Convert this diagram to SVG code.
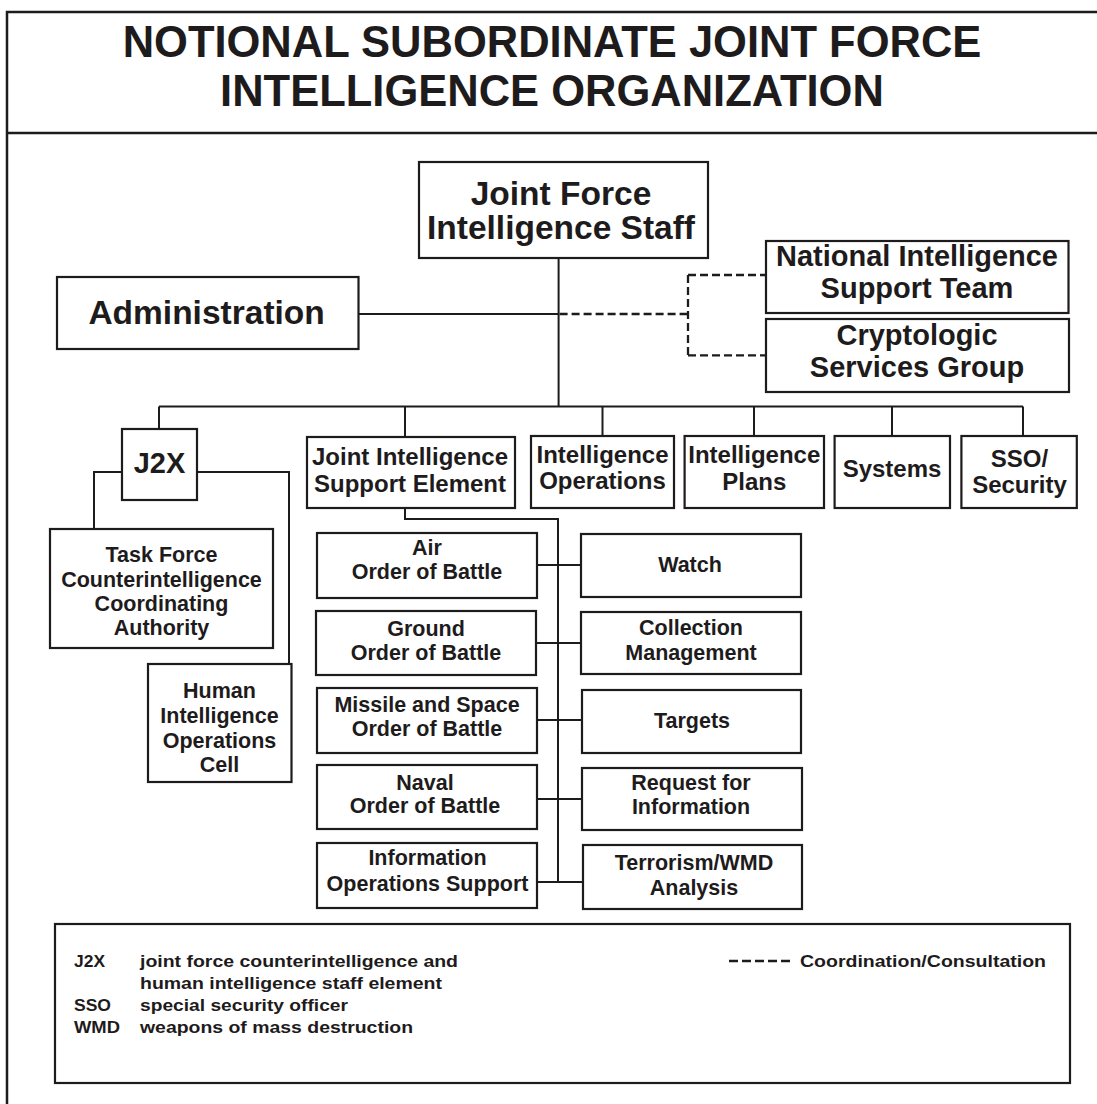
<svg xmlns="http://www.w3.org/2000/svg" width="1097" height="1104" viewBox="0 0 1097 1104">
  <style>
    .frame { fill: none; stroke: #1e1b1c; stroke-width: 2.5; }
    .box { fill: #ffffff; stroke: #1e1b1c; stroke-width: 2.2; }
    .ln { fill: none; stroke: #1e1b1c; stroke-width: 2; }
    .dash { stroke-dasharray: 8 4; stroke-width: 2.3; }
    text { font-family: "Liberation Sans", Arial, Helvetica, sans-serif; font-weight: bold; fill: #1e1b1c; }
    .c { text-anchor: middle; }
    .title { font-size: 43.5px; }
    .xl { font-size: 33.5px; }
    .lg { font-size: 29px; }
    .md { font-size: 24px; }
    .sm { font-size: 21.5px; }
    .key { font-size: 17px; }
  </style>
  <rect width="1097" height="1104" fill="#ffffff"/>

  <!-- page frame and title band -->
  <g id="frame">
    <path class="frame" d="M1097,12 H7 V1104"/>
    <line class="frame" x1="7" y1="133" x2="1097" y2="133"/>
    <text class="title c" x="552" y="57">NOTIONAL SUBORDINATE JOINT FORCE</text>
    <text class="title c" x="552" y="106">INTELLIGENCE ORGANIZATION</text>
  </g>

  <!-- connectors -->
  <g id="connectors">
    <!-- staff trunk, administration, and main bus -->
    <line class="ln" x1="558.6" y1="258" x2="558.6" y2="407"/>
    <line class="ln" x1="358" y1="314" x2="558.6" y2="314"/>
    <line class="ln" x1="159" y1="406.5" x2="1023" y2="406.5"/>
    <line class="ln" x1="159" y1="406.5" x2="159" y2="429"/>
    <line class="ln" x1="405" y1="406.5" x2="405" y2="437"/>
    <line class="ln" x1="602.5" y1="406.5" x2="602.5" y2="436"/>
    <line class="ln" x1="754" y1="406.5" x2="754" y2="436"/>
    <line class="ln" x1="892" y1="406.5" x2="892" y2="436"/>
    <line class="ln" x1="1023" y1="406.5" x2="1023" y2="436"/>
    <!-- coordination / consultation -->
    <path class="ln dash" d="M559.6,314 H688 M688,275 V355.3 M688,275 H766 M688,355.3 H766"/>
    <!-- J2X branches -->
    <path class="ln" d="M122,472 H94 V529"/>
    <path class="ln" d="M197,472 H289 V664"/>
    <!-- JISE spine -->
    <path class="ln" d="M405,508 V519 H558 V882"/>
    <line class="ln" x1="537" y1="565" x2="581" y2="565"/>
    <line class="ln" x1="536" y1="643" x2="581" y2="643"/>
    <line class="ln" x1="537" y1="720" x2="582" y2="720"/>
    <line class="ln" x1="537" y1="799" x2="582" y2="799"/>
    <line class="ln" x1="537" y1="882" x2="583" y2="882"/>
  </g>

  <g id="jfis">
    <rect class="box" x="419" y="162" width="289" height="96"/>
    <text class="xl c" x="561" y="205">Joint Force</text>
    <text class="xl c" x="561" y="239">Intelligence Staff</text>
  </g>

  <g id="administration">
    <rect class="box" x="57" y="277" width="301.5" height="72"/>
    <text class="xl c" x="206.6" y="324">Administration</text>
  </g>

  <g id="nist">
    <rect class="box" x="766" y="241" width="302.5" height="72"/>
    <text class="lg c" x="917" y="266">National Intelligence</text>
    <text class="lg c" x="917" y="298">Support Team</text>
  </g>

  <g id="csg">
    <rect class="box" x="766" y="319" width="303" height="73"/>
    <text class="lg c" x="917" y="345">Cryptologic</text>
    <text class="lg c" x="917" y="377">Services Group</text>
  </g>

  <g id="j2x">
    <rect class="box" x="122" y="429" width="75" height="71"/>
    <text class="lg c" x="159.5" y="473">J2X</text>
  </g>

  <g id="jise">
    <rect class="box" x="307" y="437" width="208" height="71"/>
    <text class="md c" x="410" y="465">Joint Intelligence</text>
    <text class="md c" x="410" y="492">Support Element</text>
  </g>

  <g id="intel-ops">
    <rect class="box" x="531" y="436" width="143" height="72"/>
    <text class="md c" x="602.5" y="463">Intelligence</text>
    <text class="md c" x="602.5" y="489">Operations</text>
  </g>

  <g id="intel-plans">
    <rect class="box" x="684.6" y="436" width="139.4" height="72"/>
    <text class="md c" x="754.3" y="463">Intelligence</text>
    <text class="md c" x="754.3" y="490">Plans</text>
  </g>

  <g id="systems">
    <rect class="box" x="834.6" y="436" width="115.4" height="72"/>
    <text class="md c" x="892" y="477">Systems</text>
  </g>

  <g id="sso">
    <rect class="box" x="961.4" y="436" width="115.4" height="72"/>
    <text class="md c" x="1019.5" y="467">SSO/</text>
    <text class="md c" x="1019.5" y="493">Security</text>
  </g>

  <g id="tfcica">
    <rect class="box" x="50" y="529" width="223" height="119"/>
    <text class="sm c" x="161.5" y="562">Task Force</text>
    <text class="sm c" x="161.5" y="587">Counterintelligence</text>
    <text class="sm c" x="161.5" y="611">Coordinating</text>
    <text class="sm c" x="161.5" y="635">Authority</text>
  </g>

  <g id="hioc">
    <rect class="box" x="148" y="664" width="143.5" height="118"/>
    <text class="sm c" x="219.5" y="698">Human</text>
    <text class="sm c" x="219.5" y="723">Intelligence</text>
    <text class="sm c" x="219.5" y="748">Operations</text>
    <text class="sm c" x="219.5" y="772">Cell</text>
  </g>

  <g id="air-ob">
    <rect class="box" x="317" y="533" width="220" height="65"/>
    <text class="sm c" x="427" y="555">Air</text>
    <text class="sm c" x="427" y="579">Order of Battle</text>
  </g>

  <g id="watch">
    <rect class="box" x="581" y="534" width="220" height="63"/>
    <text class="sm c" x="690" y="572">Watch</text>
  </g>

  <g id="ground-ob">
    <rect class="box" x="316" y="611" width="220" height="64"/>
    <text class="sm c" x="426" y="636">Ground</text>
    <text class="sm c" x="426" y="660">Order of Battle</text>
  </g>

  <g id="collection">
    <rect class="box" x="581" y="612" width="220" height="62"/>
    <text class="sm c" x="691" y="635">Collection</text>
    <text class="sm c" x="691" y="660">Management</text>
  </g>

  <g id="missile-ob">
    <rect class="box" x="317" y="688" width="220" height="65"/>
    <text class="sm c" x="427" y="712">Missile and Space</text>
    <text class="sm c" x="427" y="736">Order of Battle</text>
  </g>

  <g id="targets">
    <rect class="box" x="582" y="690" width="219" height="63"/>
    <text class="sm c" x="692" y="728">Targets</text>
  </g>

  <g id="naval-ob">
    <rect class="box" x="317" y="765" width="220" height="64"/>
    <text class="sm c" x="425" y="790">Naval</text>
    <text class="sm c" x="425" y="813">Order of Battle</text>
  </g>

  <g id="rfi">
    <rect class="box" x="582" y="768" width="220" height="62"/>
    <text class="sm c" x="691" y="790">Request for</text>
    <text class="sm c" x="691" y="814">Information</text>
  </g>

  <g id="info-ops-support">
    <rect class="box" x="317" y="843" width="220" height="65"/>
    <text class="sm c" x="427.5" y="865">Information</text>
    <text class="sm c" x="427.5" y="891">Operations Support</text>
  </g>

  <g id="terrorism">
    <rect class="box" x="583" y="845" width="219" height="64"/>
    <text class="sm c" x="694" y="870">Terrorism/WMD</text>
    <text class="sm c" x="694" y="895">Analysis</text>
  </g>

  <!-- key -->
  <g id="legend">
    <rect class="box" x="55" y="924" width="1015" height="159"/>
    <text class="key" x="74" y="967" textLength="31" lengthAdjust="spacingAndGlyphs">J2X</text>
    <text class="key" x="140" y="967" textLength="318" lengthAdjust="spacingAndGlyphs">joint force counterintelligence and</text>
    <text class="key" x="140" y="989" textLength="302" lengthAdjust="spacingAndGlyphs">human intelligence staff element</text>
    <text class="key" x="74" y="1011" textLength="37" lengthAdjust="spacingAndGlyphs">SSO</text>
    <text class="key" x="140" y="1011" textLength="208" lengthAdjust="spacingAndGlyphs">special security officer</text>
    <text class="key" x="74" y="1033" textLength="46" lengthAdjust="spacingAndGlyphs">WMD</text>
    <text class="key" x="140" y="1033" textLength="273" lengthAdjust="spacingAndGlyphs">weapons of mass destruction</text>
    <line class="ln dash" x1="729" y1="961" x2="792" y2="961" style="stroke-dasharray: 9 4"/>
    <text class="key" x="800" y="967" textLength="246" lengthAdjust="spacingAndGlyphs">Coordination/Consultation</text>
  </g>
</svg>
